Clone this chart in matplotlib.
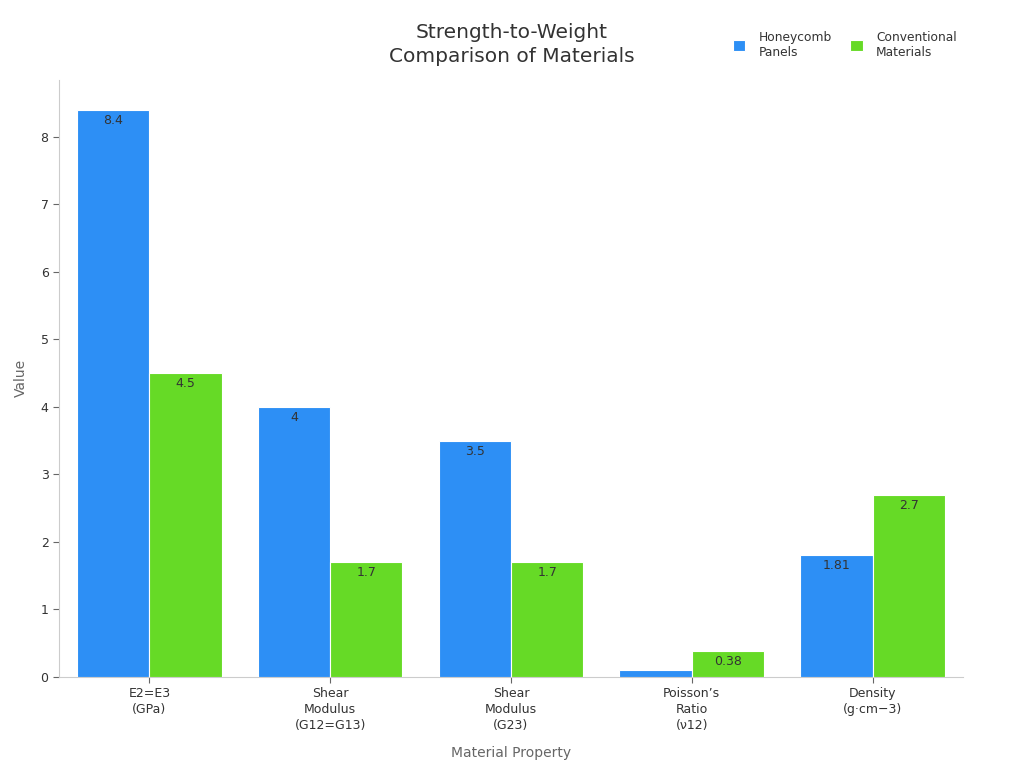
import matplotlib
matplotlib.use("Agg")
import matplotlib.pyplot as plt
import numpy as np

categories = ["E2=E3\n(GPa)", "Shear\nModulus\n(G12=G13)", "Shear\nModulus\n(G23)",
              "Poisson\u2019s\nRatio\n(\u03bd12)", "Density\n(g\u00b7cm\u22123)"]
honeycomb = [8.4, 4.0, 3.5, 0.1, 1.81]
conventional = [4.5, 1.7, 1.7, 0.38, 2.7]
honeycomb_labels = ["8.4", "4", "3.5", "", "1.81"]
conventional_labels = ["4.5", "1.7", "1.7", "0.38", "2.7"]

BLUE = "#2d8ff5"
GREEN = "#66da26"
INK = "#333333"
MUTED = "#666666"
AXIS = "#cccccc"

plt.rcParams["font.family"] = ["DejaVu Sans"]

fig = plt.figure(figsize=(10.24, 7.68), dpi=100)
ax = fig.add_axes([0.0576, 0.1185, 0.8828, 0.7775])

x = np.arange(len(categories))
w = 0.4
b1 = ax.bar(x - w / 2, honeycomb, w, color=BLUE, edgecolor="white", linewidth=0.8,
            label="Honeycomb\nPanels", zorder=3)
b2 = ax.bar(x + w / 2, conventional, w, color=GREEN, edgecolor="white", linewidth=0.8,
            label="Conventional\nMaterials", zorder=3)

for bars, labels in ((b1, honeycomb_labels), (b2, conventional_labels)):
    for rect, lab in zip(bars, labels):
        if not lab:
            continue
        ax.annotate(lab, xy=(rect.get_x() + rect.get_width() / 2, rect.get_height()),
                    xytext=(0, -3), textcoords="offset points", ha="center", va="top",
                    fontsize=9, color=INK, zorder=4)

ax.set_xlim(-0.5, 4.5)
ax.set_ylim(0, 8.84)
ax.set_xticks(x)
ax.set_xticklabels(categories, fontsize=9, color=INK, linespacing=1.3)
ax.set_yticks(range(0, 9))
ax.tick_params(axis="y", labelsize=9, colors=INK, length=4, color=MUTED)
ax.tick_params(axis="x", length=4, color=MUTED)
for s in ("top", "right"):
    ax.spines[s].set_visible(False)
for s in ("left", "bottom"):
    ax.spines[s].set_color(AXIS)

ax.set_xlabel("Material Property", fontsize=10, color=MUTED, labelpad=10)
ax.set_ylabel("Value", fontsize=10, color=MUTED, labelpad=9)

fig.suptitle("Strength-to-Weight\nComparison of Materials", x=0.5, y=0.97,
             fontsize=14.5, color=INK, va="top", linespacing=1.35)

fig.legend(handles=[b1, b2], loc="upper right", bbox_to_anchor=(0.945, 0.974),
           ncol=2, frameon=False, fontsize=8.8, handlelength=1.0, handleheight=1.0,
           handletextpad=1.1, columnspacing=1.5, labelcolor=INK)

fig.savefig("out.png", dpi=100, facecolor="white")
